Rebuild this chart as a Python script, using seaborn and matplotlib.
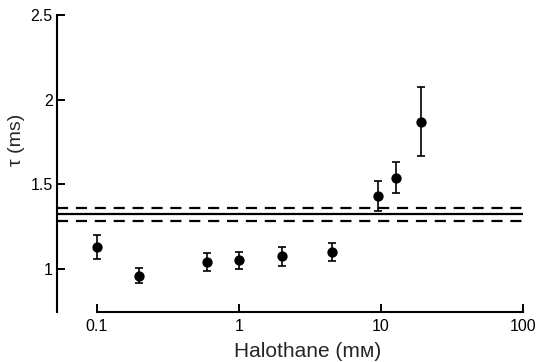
import numpy as np
import pandas as pd
import matplotlib
matplotlib.use("Agg")
import matplotlib.pyplot as plt
import seaborn as sns

halothane = [0.1, 0.2, 0.6, 1.0, 2.0, 4.5, 9.5, 12.7, 19.0]
tau = [1.13, 0.96, 1.04, 1.05, 1.075, 1.10, 1.43, 1.54, 1.87]
tau_err = [0.07, 0.043, 0.053, 0.052, 0.057, 0.055, 0.09, 0.092, 0.205]
control_mean = 1.323
control_band = [1.281, 1.362]
x_ticks = [0.1, 1, 10, 100]
x_tick_labels = ["0.1", "1", "10", "100"]
y_ticks = [1, 1.5, 2, 2.5]
y_tick_labels = ["1", "1.5", "2", "2.5"]

df = pd.DataFrame({"halothane": halothane, "tau": tau, "err": tau_err})

sns.set_style("white")
plt.rcParams["font.family"] = ["Liberation Sans", "DejaVu Sans"]

W, H = 540, 362
fig = plt.figure(figsize=(W / 100, H / 100), dpi=100)
x0, x1, ytop, ybot = 57, 535, 15, 312
ax = fig.add_axes([x0 / W, (H - ybot) / H, (x1 - x0) / W, (ybot - ytop) / H])
ax.set_xscale("log")
dec = 142.0
xlo = 10 ** (-1 - (96.7 - x0) / dec)
xhi = 10 ** (2 + (x1 - 523) / dec)
ax.set_xlim(xlo, xhi)
ax.set_ylim(1 - (ybot - 269) / 169.0, 2.5)

# control lines
ax.hlines(control_mean, xlo, 100, color="black", lw=1.6)
for yb in control_band:
    ax.hlines(yb, xlo, 100, color="black", lw=1.6, linestyles=(0, (5, 3.5)))

ax.errorbar(df["halothane"], df["tau"], yerr=df["err"], fmt="none",
            ecolor="black", elinewidth=1.2, capsize=3, capthick=1.2, zorder=3)
sns.scatterplot(data=df, x="halothane", y="tau", ax=ax, color="black",
                s=55, edgecolor="black", linewidth=0, zorder=4, legend=False)

for s in ["top", "right"]:
    ax.spines[s].set_visible(False)
for s in ["left", "bottom"]:
    ax.spines[s].set_linewidth(1.5)
    ax.spines[s].set_color("black")
ax.spines["bottom"].set_bounds(0.1, 100)

ax.set_xticks(x_ticks)
ax.set_xticklabels(x_tick_labels)
ax.xaxis.set_minor_locator(matplotlib.ticker.NullLocator())
ax.set_yticks(y_ticks)
ax.set_yticklabels(y_tick_labels)
ax.tick_params(axis="both", which="major", direction="in", length=6, width=1.4,
               colors="black", labelsize=11.5, pad=5, bottom=True, left=True)
ax.tick_params(axis="y", pad=3)

ax.set_xlabel("Halothane (mм)", fontsize=15)
ax.xaxis.set_label_coords((308 - x0) / (x1 - x0), -(342 - ybot) / (ybot - ytop))
ax.xaxis.label.set_va("top")
ax.set_ylabel("τ (ms)", fontsize=14)
ax.yaxis.set_label_coords(-(x0 - 25) / (x1 - x0), (ybot - 140) / (ybot - ytop))

fig.savefig("out.png", dpi=100)
